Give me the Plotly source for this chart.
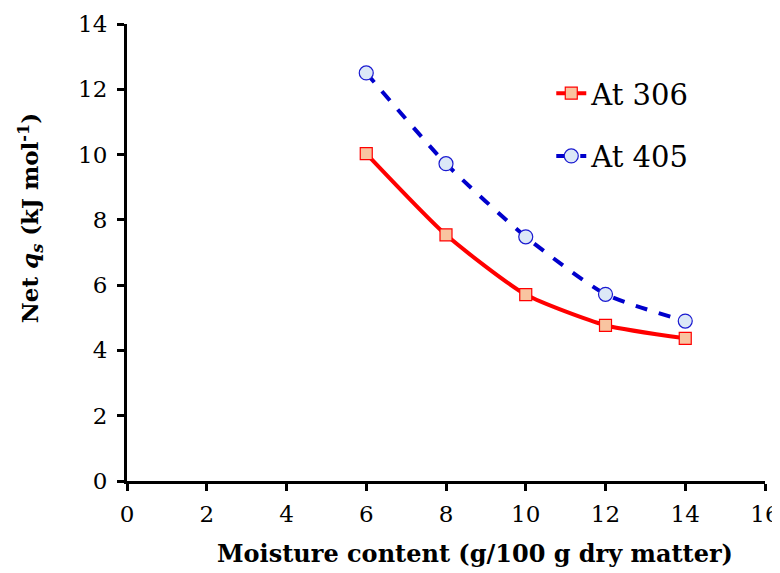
import plotly.graph_objects as go

moisture = [6, 8, 10, 12, 14]
qs_306 = [10.03, 7.54, 5.71, 4.77, 4.37]
qs_405 = [12.5, 9.72, 7.48, 5.72, 4.9]
x_ticks = [0, 2, 4, 6, 8, 10, 12, 14, 16]
y_ticks = [0, 2, 4, 6, 8, 10, 12, 14]
x_title = "<b>Moisture content (g/100 g dry matter)</b>"
y_title = "<b>Net <i>q<sub>s</sub></i> (kJ mol<sup>-1</sup>)</b>"

fig = go.Figure()
fig.add_trace(go.Scatter(
    x=moisture, y=qs_306, name="At 306", mode="lines+markers", legendgroup="a",
    line=dict(color="#ff0000", width=4, shape="spline", smoothing=0.6),
    marker=dict(symbol="square", size=12, color="#f9c4a0", line=dict(color="#ff0000", width=1.2))))
fig.add_trace(go.Scatter(
    x=moisture, y=qs_405, name="At 405", mode="lines+markers", legendgroup="b",
    line=dict(color="#0000cc", width=4, shape="spline", smoothing=0.6, dash="dash"),
    marker=dict(symbol="circle", size=14, color="#dce8f7", line=dict(color="#1a1ad0", width=1.2))))

font = "DejaVu Serif"
# page body has an 8px margin, so the figure is sized/margined to compensate
fig.update_layout(
    width=772, height=565,
    margin=dict(l=119, r=15, t=16, b=92),
    plot_bgcolor="white", paper_bgcolor="white",
    font=dict(family=font, size=23, color="black"),
    showlegend=True,
    legend=dict(x=0.665, y=0.904, xanchor="left", yanchor="top",
                traceorder="grouped", tracegroupgap=22,
                bgcolor="rgba(0,0,0,0)", font=dict(family=font, size=29)),
    xaxis=dict(range=[0, 16], tickvals=x_ticks, showgrid=False, zeroline=False,
               showline=True, linecolor="black", linewidth=3, automargin=False,
               ticks="outside", ticklen=7, tickwidth=3, tickcolor="black",
               ticklabelstandoff=3,
               tickfont=dict(family=font, size=23)),
    yaxis=dict(range=[0, 14], tickvals=y_ticks, showgrid=False, zeroline=False,
               showline=True, linecolor="black", linewidth=3, automargin=False,
               ticks="outside", ticklen=7, tickwidth=3, tickcolor="black",
               ticklabelstandoff=5,
               tickfont=dict(family=font, size=23)),
    annotations=[
        dict(text=x_title, xref="paper", yref="paper", x=0.545, y=0,
             xanchor="center", yanchor="middle", yshift=-72, showarrow=False,
             font=dict(family=font, size=24)),
        dict(text=y_title, xref="paper", yref="paper", x=0, y=0.575,
             xanchor="center", yanchor="middle", xshift=-97, textangle=-90,
             showarrow=False, font=dict(family=font, size=23)),
    ],
)
fig.write_html("out.html")
